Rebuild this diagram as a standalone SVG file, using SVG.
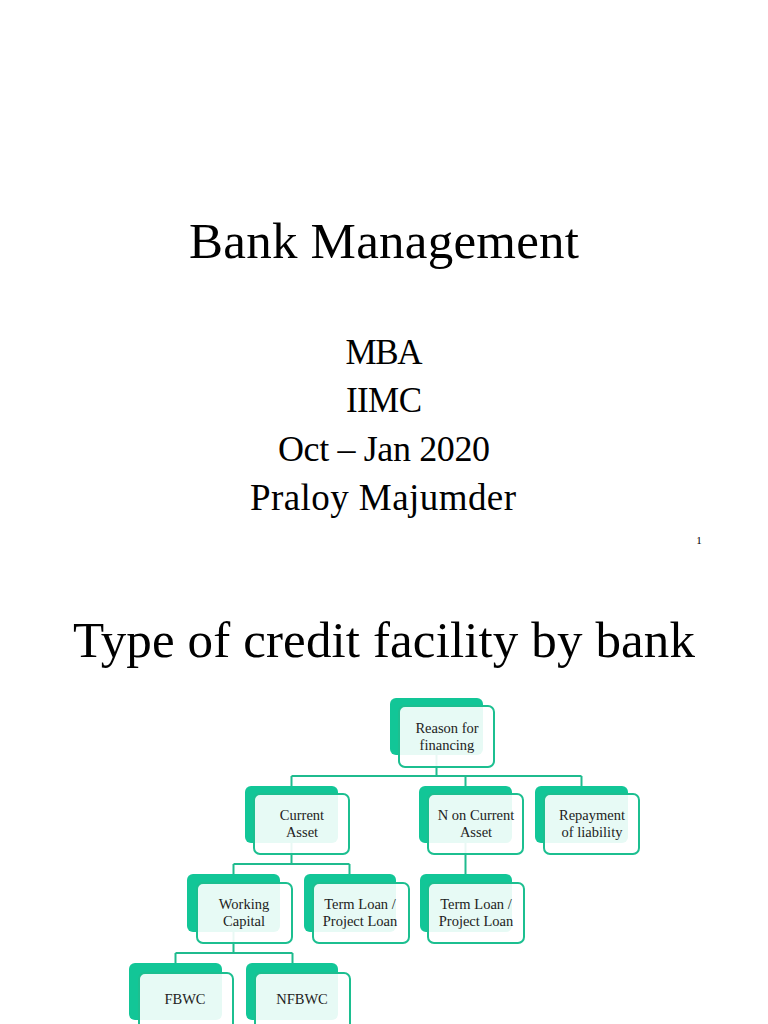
<svg xmlns="http://www.w3.org/2000/svg" width="768" height="1024" viewBox="0 0 768 1024">
<style>
.title{font-family:"Liberation Serif","Times New Roman",serif;fill:#000;text-anchor:middle}
.back{fill:#12c697}
.front{fill:#ffffff;fill-opacity:0.9;stroke:#1cbf90;stroke-width:2}
.lbl{font-family:"Liberation Serif","Times New Roman",serif;font-size:14.5px;fill:#222;text-anchor:middle}
.conn{fill:none;stroke:#1fbb8e;stroke-width:2}
</style>
<rect width="768" height="1024" fill="#ffffff"/>
<text class="title" x="384" y="258" font-size="51" textLength="390">Bank Management</text>
<text class="title" x="384" y="364" font-size="35" textLength="77">MBA</text>
<text class="title" x="384" y="412" font-size="35" textLength="76">IIMC</text>
<text class="title" x="384" y="461" font-size="36" textLength="212">Oct – Jan 2020</text>
<text class="title" x="383" y="510" font-size="37" textLength="266">Praloy Majumder</text>
<text class="title" x="699" y="544" font-size="11">1</text>
<text class="title" x="384" y="657" font-size="51" textLength="622">Type of credit facility by bank</text>
<g id="connectors">
<path class="conn" d="M436.5 755 V776 M291.5 776 H581.5 M291.5 776 V786 M465.5 776 V786 M581.5 776 V786"/>
<path class="conn" d="M291.5 843 V864 M233.5 864 H349.5 M233.5 864 V874 M349.5 864 V874"/>
<path class="conn" d="M465.5 843 V874"/>
<path class="conn" d="M233.5 932 V953 M175.5 953 H292.5 M175.5 953 V963 M292.5 953 V963"/>
</g>
<g id="n-reason">
<rect class="back" x="390" y="698" width="93" height="57" rx="6"/>
<rect class="front" x="399" y="706" width="95" height="61" rx="6"/>
<text class="lbl" x="447" y="733">Reason for</text>
<text class="lbl" x="447" y="750">financing</text>
</g>
<g id="n-current">
<rect class="back" x="245" y="786" width="93" height="57" rx="6"/>
<rect class="front" x="254" y="794" width="95" height="60" rx="6"/>
<text class="lbl" x="302" y="820">Current</text>
<text class="lbl" x="302" y="837">Asset</text>
</g>
<g id="n-noncurrent">
<rect class="back" x="419" y="786" width="93" height="57" rx="6"/>
<rect class="front" x="428" y="794" width="95" height="60" rx="6"/>
<text class="lbl" x="476" y="820">N on Current</text>
<text class="lbl" x="476" y="837">Asset</text>
</g>
<g id="n-repayment">
<rect class="back" x="535" y="786" width="93" height="57" rx="6"/>
<rect class="front" x="544" y="794" width="95" height="60" rx="6"/>
<text class="lbl" x="592" y="820">Repayment</text>
<text class="lbl" x="592" y="837">of liability</text>
</g>
<g id="n-working">
<rect class="back" x="187" y="874" width="93" height="58" rx="6"/>
<rect class="front" x="197" y="883" width="95" height="60" rx="6"/>
<text class="lbl" x="244" y="909">Working</text>
<text class="lbl" x="244" y="926">Capital</text>
</g>
<g id="n-term1">
<rect class="back" x="304" y="874" width="92" height="58" rx="6"/>
<rect class="front" x="313" y="883" width="96" height="60" rx="6"/>
<text class="lbl" x="360" y="909">Term Loan /</text>
<text class="lbl" x="360" y="926">Project Loan</text>
</g>
<g id="n-term2">
<rect class="back" x="420" y="874" width="92" height="58" rx="6"/>
<rect class="front" x="428" y="883" width="96" height="60" rx="6"/>
<text class="lbl" x="476" y="909">Term Loan /</text>
<text class="lbl" x="476" y="926">Project Loan</text>
</g>
<g id="n-fbwc">
<rect class="back" x="129" y="963" width="93" height="57" rx="6"/>
<rect class="front" x="139" y="973" width="94" height="60" rx="6"/>
<text class="lbl" x="185" y="1004">FBWC</text>
</g>
<g id="n-nfbwc">
<rect class="back" x="246" y="963" width="92" height="57" rx="6"/>
<rect class="front" x="255" y="973" width="95" height="60" rx="6"/>
<text class="lbl" x="302" y="1004">NFBWC</text>
</g>
</svg>
